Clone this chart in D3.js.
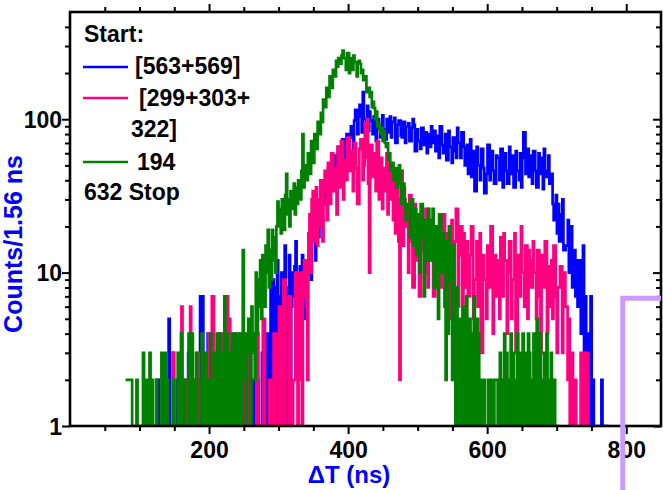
<!DOCTYPE html>
<html><head><meta charset="utf-8">
<script src="https://cdn.jsdelivr.net/npm/d3@7"></script>
<style>
html,body{margin:0;padding:0;background:#fff;}
svg{display:block;font-family:"Liberation Sans",Arial,sans-serif;font-weight:bold;}
</style>
</head><body>
<svg id="c" width="663" height="490"></svg>
<script>
// ---------- data (counts per 1.56 ns bin) ----------
const binWidth = 1.56;
const seriesNames = ["[563+569]", "[299+303+322]", "194"];
const seriesColors = ["#0000ff", "#ff0080", "#008000"];
const seriesStarts = [120, 140, 80]; // ns, start of first bin

const blueCounts = [
  0,0,0,2,2,0,0,0,0,0,0,0,0,0,5,0,0,0,3,0,
  0,0,2,0,0,0,0,2,0,0,0,0,3,0,0,0,2,0,0,0,
  0,0,0,7,0,7,2,0,0,0,4,0,2,0,0,0,0,0,0,3,
  4,0,0,2,0,0,0,3,0,0,0,0,2,0,4,0,0,0,0,0,
  0,2,0,4,0,0,2,0,3,0,0,0,2,0,4,0,2,0,0,0,
  3,0,2,0,0,4,0,0,14,0,9,8,3,0,12,4,0,7,10,6,
  9,15,4,0,8,13,0,6,10,7,11,16,9,5,6,11,8,13,10,9,
  5,5,12,14,14,9,16,22,22,12,26,26,17,25,25,20,32,32,28,42,
  33,48,48,36,55,55,40,58,58,45,66,66,42,62,74,74,50,68,80,80,
  54,76,90,90,64,98,115,115,80,104,124,124,82,150,100,100,88,122,84,112,
  98,98,80,104,104,72,100,100,88,76,76,106,86,86,74,100,100,82,104,76,
  96,96,102,70,70,92,98,98,78,76,96,96,70,90,90,94,72,72,88,100,
  92,62,62,86,72,72,64,88,88,68,82,82,60,80,66,66,90,70,84,84,
  62,78,78,56,90,90,68,60,60,80,54,54,84,66,66,52,76,76,62,56,
  88,70,70,56,82,82,66,50,50,68,44,44,74,42,42,62,34,34,66,50,
  50,40,64,64,48,33,33,44,68,68,40,62,62,46,38,38,58,56,56,40,
  64,64,36,60,60,46,38,38,66,44,44,58,36,36,62,46,46,40,60,36,
  56,82,82,44,64,64,42,58,58,38,62,62,46,36,36,60,44,56,56,35,
  64,42,42,46,58,38,38,44,28,22,22,32,18,28,16,16,24,30,14,14,
  15,15,22,10,10,20,8,14,14,7,12,6,6,12,4,4,15,3,7,2,
  4,0,3,7,0,2,0,0,0,0,0,0,0,2,0,0,0,0,0,0
];
const pinkCounts = [
  0,0,0,0,0,3,0,0,0,0,0,0,0,6,0,0,0,2,0,0,
  0,6,0,0,2,0,0,0,3,0,0,0,0,2,0,0,0,0,4,0,
  0,7,7,0,0,2,0,0,0,4,0,0,3,0,0,7,0,5,0,0,
  2,2,0,0,0,0,4,4,0,0,0,0,3,3,0,0,0,0,0,0,
  0,0,4,4,0,0,0,0,5,5,0,0,0,0,2,2,0,0,4,4,
  0,0,0,6,6,0,0,9,9,0,0,0,7,7,0,0,2,2,10,10,
  0,2,10,10,0,7,12,12,6,2,18,24,10,30,34,16,26,36,15,30,
  20,40,40,16,34,46,46,22,52,52,28,60,60,34,48,48,24,66,66,36,
  72,72,30,54,54,40,76,76,46,62,62,34,70,70,48,28,28,64,74,74,
  40,50,94,56,100,38,10,68,68,42,60,60,34,72,72,30,56,56,26,48,
  48,34,60,24,50,30,30,46,22,42,18,34,40,16,2,30,46,15,36,20,
  26,26,10,32,32,16,8,8,28,12,12,24,7,7,22,14,14,10,26,26,
  8,20,20,12,22,7,7,18,10,10,20,8,8,15,24,24,6,18,18,10,
  5,5,22,8,8,16,26,26,6,13,20,20,5,18,8,8,16,7,7,13,
  20,20,5,9,9,16,6,6,18,3,3,13,9,9,5,15,15,8,20,20,
  4,13,13,7,12,12,5,17,7,7,18,12,12,4,10,16,16,5,9,9,
  18,3,3,13,7,7,20,10,10,6,15,15,5,14,12,8,8,16,10,10,
  5,14,14,7,3,13,13,8,16,16,4,11,6,6,12,5,15,15,7,3,
  8,8,11,11,3,10,10,6,6,2,5,0,3,3,0,0,2,0,0,0,
  0,3,0,0,3,0,2,3,0,0
];
const greenCounts = [
  2,2,2,2,2,2,0,0,0,0,2,0,0,0,0,0,3,0,0,2,
  0,0,3,0,2,0,0,0,2,0,0,0,0,3,0,0,3,0,2,0,
  0,0,0,0,2,0,0,0,3,0,0,4,0,0,2,0,0,0,4,2,
  0,4,0,2,0,3,0,0,0,2,4,0,0,3,0,2,0,0,4,0,
  2,0,3,0,4,2,0,4,0,0,3,7,0,4,2,0,3,0,4,0,
  2,4,0,4,0,3,4,0,14,2,4,0,3,5,4,0,6,3,4,2,
  10,4,9,6,12,5,13,8,6,15,10,19,8,14,9,19,12,17,10,20,
  29,20,26,18,30,22,19,32,44,24,30,20,34,26,32,38,24,36,28,40,
  34,30,46,80,36,50,50,40,60,60,44,72,72,52,80,80,64,96,96,80,
  110,96,134,134,120,160,160,140,190,190,160,210,210,190,240,220,250,250,230,260,
  280,250,250,210,270,270,200,250,250,210,260,236,236,190,230,240,230,200,210,180,
  180,190,150,150,160,140,150,120,130,118,100,112,90,94,86,80,88,72,84,70,
  66,70,54,60,46,48,52,40,42,48,36,38,50,46,28,30,38,30,22,26,
  28,28,17,30,30,15,26,26,13,24,24,10,28,28,17,7,22,22,12,26,
  22,12,12,26,8,8,20,20,5,24,24,10,18,18,6,2,16,4,20,9,
  10,2,15,6,0,8,3,0,5,2,0,6,0,3,7,0,2,5,0,4,
  0,7,3,0,5,4,0,2,0,0,2,0,0,0,2,0,0,2,0,0,
  2,2,2,0,0,3,0,2,0,4,0,3,0,0,2,4,0,3,0,2,
  0,4,0,3,0,2,4,0,3,0,0,4,3,0,2,0,4,3,0,5,
  0,3,4,0,2,0,3,0,4,0,0,2,3,0,0,2,0,0,0,0
];
const seriesCounts = [blueCounts, pinkCounts, greenCounts];

// overlay marker (light purple step) : starts at 795 ns, level 6.8
const markerX = [795, 850];
const markerY = [6.8, 6.8];

const xTickValues = [200, 400, 600, 800];
const xMinorValues = [50,100,150,250,300,350,450,500,550,650,700,750];
const yTickValues = [1, 10, 100];
const yMinorValues = [2,3,4,5,6,7,8,9,20,30,40,50,60,70,80,90,200,300,400];
const xTitle = "\u0394T (ns)";
const yTitle = "Counts/1.56 ns";

// ---------- layout ----------
const L = 70, R = 661, T = 12, B = 426;
const x = d3.scaleLinear().domain([0, 850]).range([L, R]);
const y = d3.scaleLog().domain([1, 500]).range([B, T]);
const svg = d3.select("#c");

svg.append("defs").append("clipPath").attr("id", "plotclip")
  .append("rect").attr("x", L).attr("y", T - 1).attr("width", R - L).attr("height", B - T + 1);

// ---------- axes ----------
function styleAxis(g) {
  g.select(".domain").remove();
  g.selectAll(".tick line").attr("stroke", "#000").attr("stroke-width", 2);
}
// bottom
svg.append("g").attr("transform", `translate(0,${B})`)
  .call(d3.axisBottom(x).tickValues(xMinorValues).tickSize(5).tickFormat(""))
  .call(styleAxis);
const gb = svg.append("g").attr("transform", `translate(0,${B})`)
  .call(d3.axisBottom(x).tickValues(xTickValues).tickSize(8).tickFormat(d3.format("d")))
  .call(styleAxis);
gb.selectAll("text").attr("y", 32).attr("dy", null).attr("fill", "#000")
  .style("font-size", "23px").style("font-weight", "bold").style("font-family", "'Liberation Sans',Arial,sans-serif");
// top
svg.append("g").attr("transform", `translate(0,${T})`)
  .call(d3.axisTop(x).tickValues(xMinorValues).tickSize(5).tickFormat("")).call(styleAxis);
svg.append("g").attr("transform", `translate(0,${T})`)
  .call(d3.axisTop(x).tickValues(xTickValues).tickSize(8).tickFormat("")).call(styleAxis);
// left
svg.append("g").attr("transform", `translate(${L},0)`)
  .call(d3.axisLeft(y).tickValues(yMinorValues).tickSize(5).tickFormat("")).call(styleAxis);
const gl = svg.append("g").attr("transform", `translate(${L},0)`)
  .call(d3.axisLeft(y).tickValues(yTickValues).tickSize(8).tickFormat(d3.format("d")))
  .call(styleAxis);
gl.selectAll("text").attr("x", -8).attr("dy", "0.36em").attr("fill", "#000")
  .style("font-size", "23px").style("font-weight", "bold").style("font-family", "'Liberation Sans',Arial,sans-serif");
// right (inward)
svg.append("g").attr("transform", `translate(${R},0)`)
  .call(d3.axisLeft(y).tickValues(yMinorValues).tickSize(5).tickFormat("")).call(styleAxis);
svg.append("g").attr("transform", `translate(${R},0)`)
  .call(d3.axisLeft(y).tickValues(yTickValues).tickSize(8).tickFormat("")).call(styleAxis);

// ---------- series ----------
const plot = svg.append("g").attr("clip-path", "url(#plotclip)");
const line = d3.line().x(d => x(d[0])).y(d => y(d[1])).curve(d3.curveStepAfter);
seriesCounts.forEach((counts, k) => {
  const s0 = seriesStarts[k];
  const pts = counts.map((c, i) => [s0 + i * binWidth, Math.max(c, 1)]);
  pts.push([s0 + counts.length * binWidth, Math.max(counts[counts.length - 1], 1)]);
  plot.append("path").datum(pts)
    .attr("fill", "none").attr("stroke", seriesColors[k])
    .attr("stroke-width", 2.7).attr("stroke-linejoin", "miter")
    .attr("d", line);
});

// frame
svg.append("rect").attr("x", L).attr("y", T).attr("width", R - L).attr("height", B - T)
  .attr("fill", "none").attr("stroke", "#000").attr("stroke-width", 2.6);

// purple marker step (extends below the axis)
const mk = d3.path();
mk.moveTo(x(markerX[0]), 490);
mk.lineTo(x(markerX[0]), y(markerY[0]));
mk.lineTo(x(markerX[1]), y(markerY[1]));
svg.append("path").attr("d", mk.toString()).attr("fill", "none")
  .attr("stroke", "#cc99ff").attr("stroke-width", 5);

// ---------- titles ----------
svg.append("text").attr("x", 349).attr("y", 483).attr("text-anchor", "middle")
  .attr("fill", "#0000ff").style("font-size", "24px").text(xTitle);
svg.append("text").attr("transform", "translate(22,244) rotate(-90)").attr("text-anchor", "middle")
  .attr("fill", "#0000ff").style("font-size", "25px").text(yTitle);

// ---------- legend ----------
const lg = svg.append("g").style("font-size", "23px").attr("fill", "#000");
lg.append("text").attr("x", 84).attr("y", 42).text("Start:");
const legendRows = [
  {k: 0, ly: 67, lines: [[135, 74, "[563+569]"]]},
  {k: 1, ly: 98, lines: [[139, 106, "[299+303+"], [131, 137, "322]"]]},
  {k: 2, ly: 162, lines: [[137, 170, "194"]]}
];
legendRows.forEach(r => {
  lg.append("line").attr("x1", 83).attr("x2", 128).attr("y1", r.ly).attr("y2", r.ly)
    .attr("stroke", seriesColors[r.k]).attr("stroke-width", 2.6);
  r.lines.forEach(t => lg.append("text").attr("x", t[0]).attr("y", t[1]).text(t[2]));
});
lg.append("text").attr("x", 84).attr("y", 200).text("632 Stop");
</script>
</body></html>
